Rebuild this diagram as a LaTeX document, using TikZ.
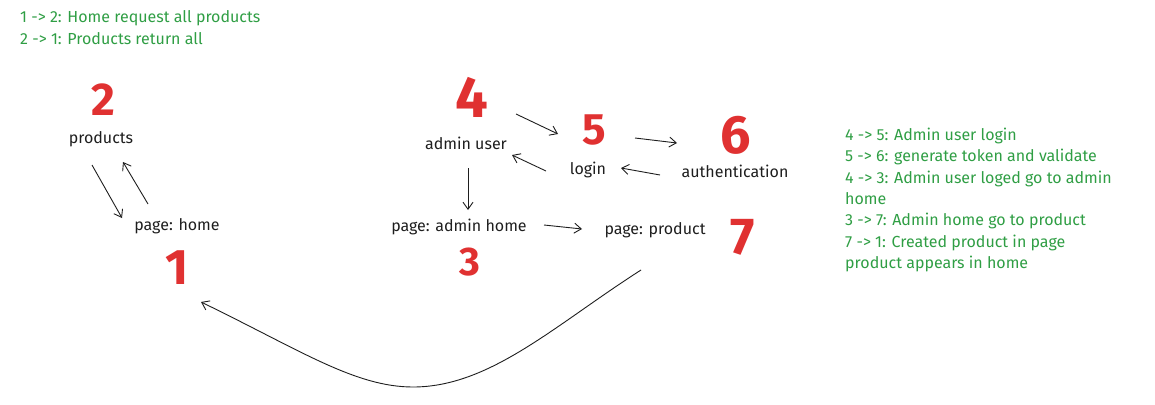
\documentclass[tikz,border=0pt]{standalone}
\usepackage{fontspec}
\setmainfont{Fira Sans}
\usetikzlibrary{arrows.meta}
\definecolor{inkred}{HTML}{E03131}
\definecolor{inkgreen}{HTML}{2F9E44}
\definecolor{ink}{HTML}{1E1E1E}
\tikzset{
  lbl/.style={inner sep=0pt,text=ink,font=\fontsize{16}{18}\selectfont},
  num/.style={inner sep=0pt,text=inkred,font=\fontsize{#1}{#1}\selectfont\bfseries},
  note/.style={inner sep=0pt,text=inkgreen,align=left,anchor=north west},
  flow/.style={draw=ink,line width=0.9pt,-{Straight Barb[length=7pt,width=10pt]}}
}
\begin{document}
\begin{tikzpicture}[x=1pt,y=-1pt]
  \useasboundingbox (0,0) rectangle (1155,404);
  % page nodes
  \node[lbl] at (101,139) (P) {products};
  \node[lbl] at (177,226) (H) {page: home};
  \node[lbl] at (466,143) (AU) {admin user};
  \node[lbl] at (588,170) (L) {login};
  \node[lbl] at (735,171) (A) {authentication};
  \node[lbl] at (459,227) (AH) {page: admin home};
  \node[lbl] at (655,230) (PP) {page: product};
  % red step numbers
  \foreach \n/\x/\y/\s in {1/177/268/50,2/103/100/46,3/470/262/40,4/472/97/58,5/594/130/44,6/736/135/54,7/743/237/52} {
    \node[num=\s] at (\x,\y) (N\n) {\n};
  }
  % connectors
  \draw[flow] ([shift={(-9,26)}]P.center) -- ([shift={(-55,-8)}]H.center);
  \draw[flow] ([shift={(-29,-22)}]H.center) -- ([shift={(22,23)}]P.center);
  \draw[flow] ([shift={(50,-29)}]AU.center) -- ([shift={(-30,-36)}]L.center);
  \draw[flow] ([shift={(47,-32)}]L.center) -- ([shift={(-58,-28)}]A.center);
  \draw[flow] ([shift={(-75,4)}]A.center) -- ([shift={(33,-2)}]L.center);
  \draw[flow] ([shift={(-42,1)}]L.center) -- ([shift={(46,12)}]AU.center);
  \draw[flow] ([shift={(2,25)}]AU.center) -- ([shift={(9,-17)}]AH.center);
  \draw[flow] ([shift={(85,-2)}]AH.center) -- ([shift={(-73,-1)}]PP.center);
  \draw[flow] ([shift={(-14,40)}]PP.center) .. controls (555,325) and (490,387) .. (413,387)
    .. controls (355,387) and (300,350) .. ([shift={(24,76)}]H.center);
  % legends
  \node[note,font=\fontsize{16}{22}\selectfont] at (20,10) (T1) {1 -> 2: Home request all products\\2 -> 1: Products return all};
  \node[note,font=\fontsize{16}{21.3}\selectfont] at (845,128) (T2) {4 -> 5: Admin user login\\5 -> 6: generate token and validate\\4 -> 3: Admin user loged go to admin\\home\\3 -> 7: Admin home go to product\\7 -> 1: Created product in page\\product appears in home};
\end{tikzpicture}
\end{document}
